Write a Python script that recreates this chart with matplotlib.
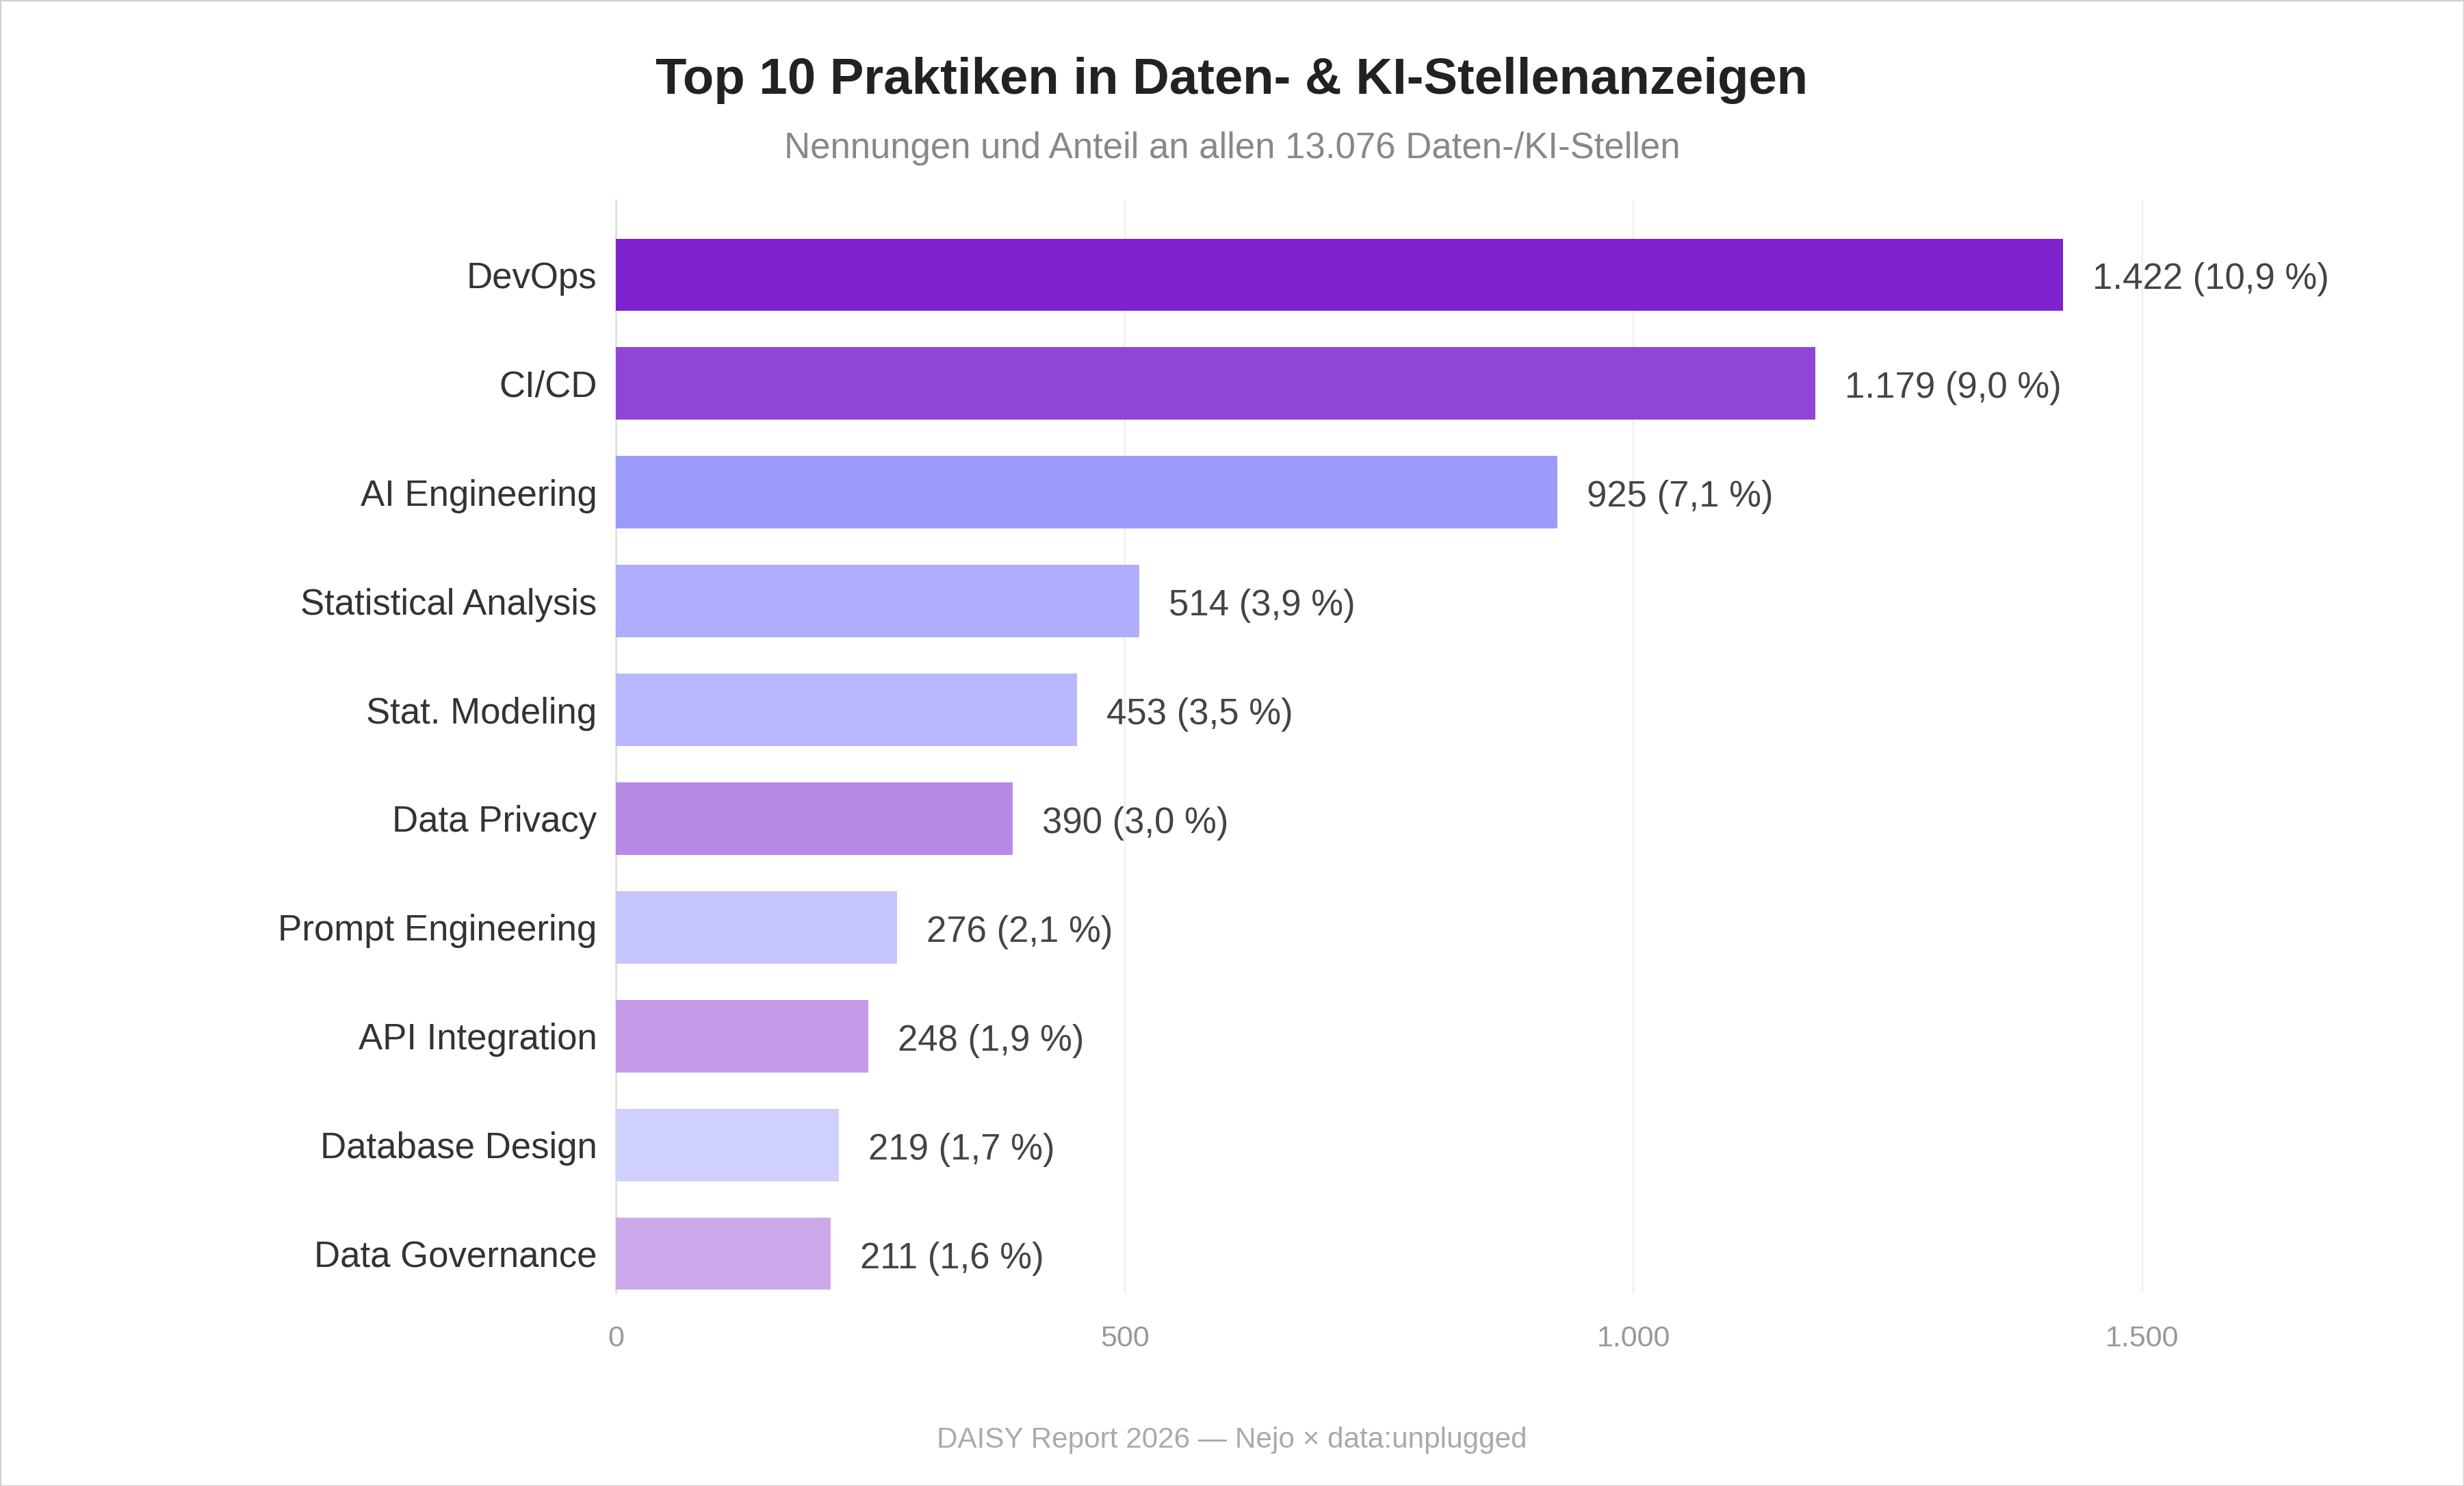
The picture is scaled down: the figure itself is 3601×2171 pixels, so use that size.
import matplotlib
matplotlib.use("Agg")
import matplotlib.pyplot as plt
from matplotlib.patches import Rectangle

plt.rcParams['font.family'] = ['Liberation Sans', 'DejaVu Sans']

categories = ["DevOps", "CI/CD", "AI Engineering", "Statistical Analysis", "Stat. Modeling",
              "Data Privacy", "Prompt Engineering", "API Integration", "Database Design",
              "Data Governance"]
counts = [1422, 1179, 925, 514, 453, 390, 276, 248, 219, 211]
shares = [10.9, 9.0, 7.1, 3.9, 3.5, 3.0, 2.1, 1.9, 1.7, 1.6]
colors = ["#7e22ce", "#9145d6", "#9b9bfc", "#aeaefd", "#b9b7fd",
          "#b88ae6", "#c7c6fe", "#c49ae9", "#d0d0fe", "#cca9eb"]
xticks = [0, 500, 1000, 1500]
xticklabels = ["0", "500", "1.000", "1.500"]

title = "Top 10 Praktiken in Daten- & KI-Stellenanzeigen"
subtitle = "Nennungen und Anteil an allen 13.076 Daten-/KI-Stellen"
footer = "DAISY Report 2026 \u2014 Nejo \u00d7 data:unplugged"

fig = plt.figure(figsize=(3601/200, 2171/200), dpi=200)
fig.patch.set_facecolor("white")
ax = fig.add_axes([0.25, 0.130, 0.702, 0.7356])

y = list(range(len(categories)))
ax.barh(y, counts, height=0.666, color=colors, zorder=3)
ax.set_ylim(9.36, -0.69)
ax.set_xlim(0, 1700)

for yi, c, s in zip(y, counts, shares):
    lbl = f"{c:,}".replace(",", ".") + f" ({s:.1f} %)".replace(".", ",")
    ax.annotate(lbl, xy=(c, yi), xytext=(15.5, -2.5), textcoords="offset points",
                va="center", ha="left", fontsize=19, color="#444444", zorder=4)

ax.set_yticks(y)
ax.set_yticklabels(categories, fontsize=19, color="#333333")
ax.tick_params(axis="y", length=0, pad=10)
ax.set_xticks(xticks)
ax.set_xticklabels(xticklabels, fontsize=15.5, color="#999999")
ax.tick_params(axis="x", length=0, pad=17)

ax.grid(axis="x", color="#eeeeee", linewidth=0.8, zorder=0)
for side in ["top", "right", "bottom"]:
    ax.spines[side].set_visible(False)
ax.spines["left"].set_color("#dddddd")
ax.spines["left"].set_linewidth(0.9)

fig.text(0.5, 0.946, title, ha="center", va="center", fontsize=26.8,
         fontweight="bold", color="#222222")
fig.text(0.5, 0.900, subtitle, ha="center", va="center", fontsize=19, color="#888888")
fig.text(0.5, 0.0307, footer, ha="center", va="center", fontsize=15.2, color="#aaaaaa")

fig.add_artist(Rectangle((0, 0), 1, 1, transform=fig.transFigure, fill=False,
                         edgecolor="#d0d0d0", linewidth=1.2))

fig.savefig("out.png", dpi=200, facecolor="white")
